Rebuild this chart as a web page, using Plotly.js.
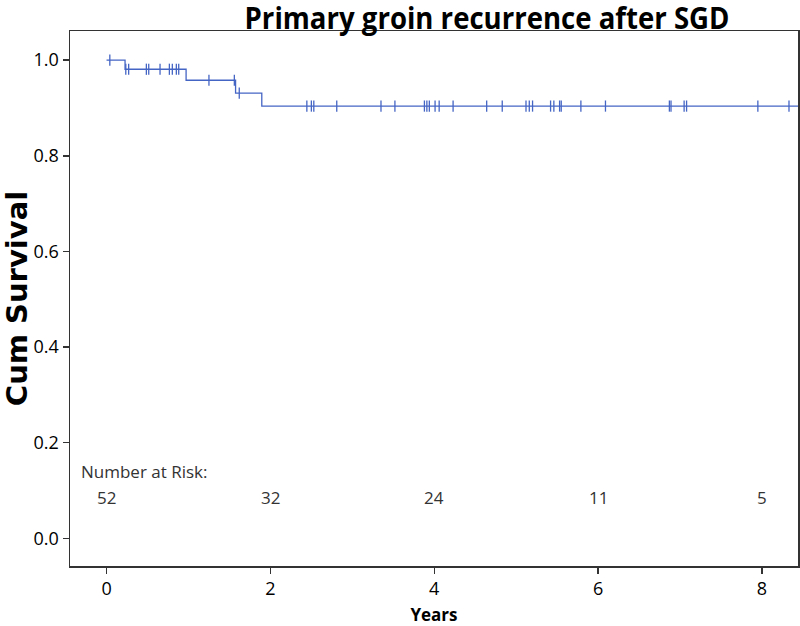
<!DOCTYPE html>
<html>
<head>
<meta charset="utf-8">
<script src="https://cdn.plot.ly/plotly-3.0.1.min.js"></script>
<style>
  html, body { margin: 0; padding: 0; background: #fff; }
  #chart { width: 800px; height: 626px; }
</style>
</head>
<body>
<div id="chart"></div>
<script>
// Kaplan-Meier step curve (times in years, cumulative survival)
const stepTimes = [0, 0.226, 0.971, 1.575, 1.895, 8.44];
const stepSurv  = [1.0, 0.981, 0.958, 0.931, 0.904, 0.904];

// Censored observations (years)
const censorTimes = [0.04, 0.235, 0.27, 0.486, 0.515, 0.653, 0.767, 0.803, 0.852, 0.881,
  1.25, 1.56, 1.62, 2.445, 2.50, 2.53, 2.81, 3.35, 3.52, 3.88, 3.91, 3.94, 4.01, 4.06,
  4.23, 4.64, 4.83, 5.12, 5.16, 5.20, 5.42, 5.46, 5.53, 5.55, 5.79, 6.09, 6.87, 6.89,
  7.05, 7.08, 7.95, 8.33];

// Number at risk table
const riskTimes = [0, 2, 4, 6, 8];
const riskCounts = [52, 32, 24, 11, 5];

const xTicks = [0, 2, 4, 6, 8];
const yTicks = [0.0, 0.2, 0.4, 0.6, 0.8, 1.0];

// survival level of the step curve at time t (right-continuous)
function survAt(t) {
  let s = stepSurv[0];
  for (let i = 0; i < stepTimes.length; i++) {
    if (stepTimes[i] <= t) s = stepSurv[i];
  }
  return s;
}
const censorSurv = censorTimes.map(survAt);

const blue = '#4565c4';
const sans = '"Open Sans", "Liberation Sans", sans-serif';

const traces = [
  {
    x: stepTimes, y: stepSurv, type: 'scatter', mode: 'lines',
    line: { shape: 'hv', color: blue, width: 1.3 },
    hoverinfo: 'skip', showlegend: false
  },
  {
    x: censorTimes, y: censorSurv, type: 'scatter', mode: 'markers',
    marker: { symbol: 'line-ns', size: 8, line: { color: blue, width: 1.3 } },
    hoverinfo: 'skip', showlegend: false
  }
];

const annotations = riskTimes.map((t, i) => ({
  x: t, y: 0.086, xref: 'x', yref: 'y', text: String(riskCounts[i]),
  showarrow: false, xanchor: 'center', yanchor: 'middle',
  font: { family: sans, size: 17, color: '#333' }
}));
annotations.push({
  x: -0.34, y: 0.139, xref: 'x', yref: 'y', text: 'Number at Risk:',
  showarrow: false, xanchor: 'left', yanchor: 'middle',
  font: { family: sans, size: 17, color: '#333' }
});

const layout = {
  width: 800, height: 626,
  paper_bgcolor: '#fff', plot_bgcolor: '#fff',
  margin: { l: 70, r: 2, t: 31, b: 60 },
  title: {
    text: '<b>Primary groin recurrence after SGD</b>',
    font: { family: sans, size: 30, color: '#000' },
    x: 487 / 800, xanchor: 'center', xref: 'container',
    y: 0.988, yanchor: 'top', yref: 'container'
  },
  xaxis: {
    range: [-0.446, 8.44],
    tickvals: xTicks, ticktext: xTicks.map(String),
    ticks: 'outside', ticklen: 6, tickwidth: 1.5, tickcolor: '#333',
    showline: true, linecolor: '#333', linewidth: 1.5, mirror: true,
    showgrid: false, zeroline: false,
    tickfont: { family: sans, size: 18, color: '#000' },
    title: { text: '<b>Years</b>', font: { family: sans, size: 17, color: '#000' }, standoff: 13 }
  },
  yaxis: {
    range: [-0.058, 1.061],
    tickvals: yTicks, ticktext: yTicks.map(v => v.toFixed(1)),
    ticks: 'outside', ticklen: 6, tickwidth: 1.5, tickcolor: '#333',
    showline: true, linecolor: '#333', linewidth: 1.5, mirror: true,
    showgrid: false, zeroline: false,
    tickfont: { family: sans, size: 18, color: '#000' },
    title: { text: '<b>Cum Survival</b>', font: { family: '"DejaVu Sans", sans-serif', size: 29, color: '#000' }, standoff: 4 }
  },
  annotations: annotations,
  showlegend: false
};

Plotly.newPlot('chart', traces, layout, { displayModeBar: false, staticPlot: true }).then(() => {
  // condense the title horizontally to match the narrow bold face of the original
  const t = document.querySelector('.gtitle');
  if (t) {
    const w = t.getBBox().width;
    const target = 485, cx = 487;
    const s = Math.min(1, target / w);
    t.setAttribute('transform', `translate(${cx},0) scale(${s},1) translate(${-cx},0)`);
  }
});
</script>
</body>
</html>
